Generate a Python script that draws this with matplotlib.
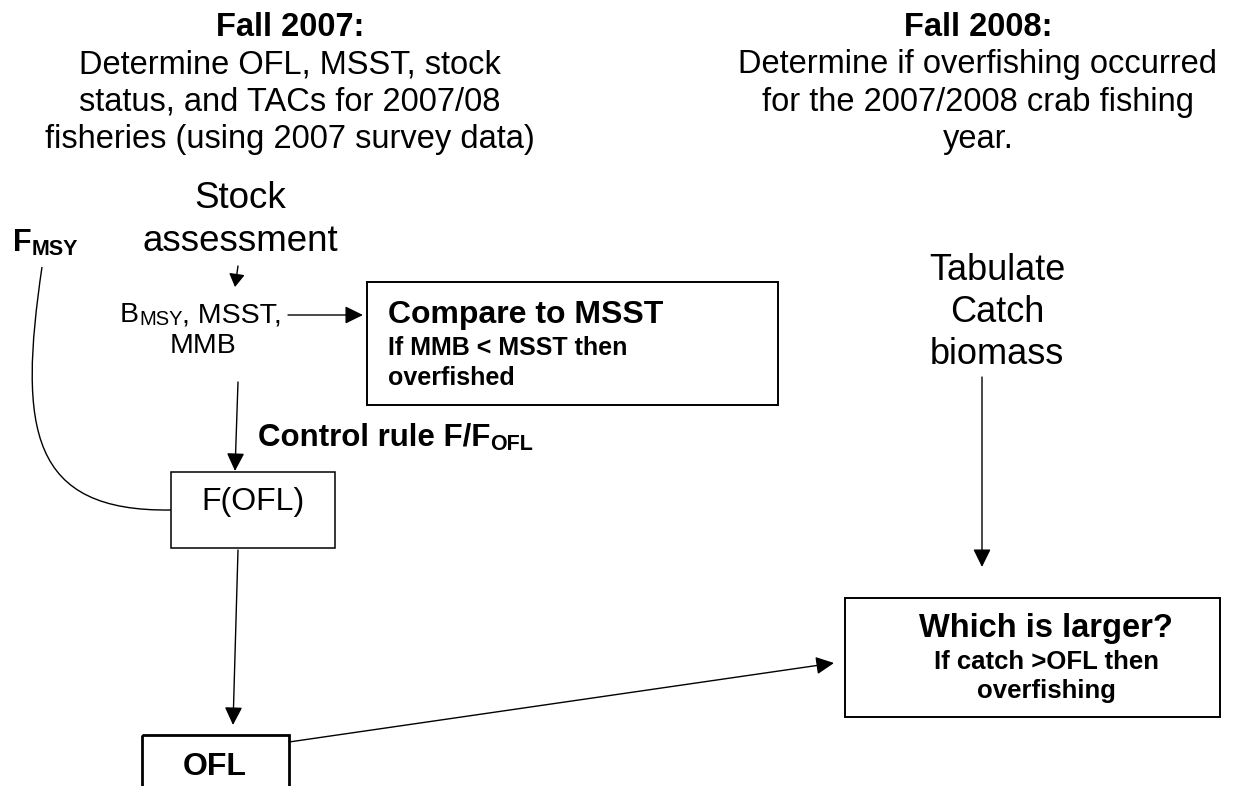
import matplotlib.pyplot as plt
from matplotlib.patches import Rectangle, PathPatch
from matplotlib.path import Path

plt.rcParams['font.family'] = ['Liberation Sans', 'DejaVu Sans']

# texts of the flow chart
left_head = 'Fall 2007:'
left_lines = ['Determine OFL, MSST, stock',
              'status, and TACs for 2007/08',
              'fisheries (using 2007 survey data)']
right_head = 'Fall 2008:'
right_lines = ['Determine if overfishing occurred',
               'for the 2007/2008 crab fishing',
               'year.']
stock_lines = ['Stock', 'assessment']
tab_lines = ['Tabulate', 'Catch', 'biomass']
compare_title = 'Compare to MSST'
compare_lines = ['If MMB < MSST then', 'overfished']
which_title = 'Which is larger?'
which_lines = ['If catch >OFL then', 'overfishing']
fmsy_runs = [('F', 0), ('MSY', 1)]
bmsy_runs = [('B', 0), ('MSY', 1), (', MSST,', 0)]
control_runs = [('Control rule F/F', 0), ('OFL', 1)]
fofl_label = 'F(OFL)'
ofl_label = 'OFL'
mmb_label = 'MMB'

fig = plt.figure(figsize=(12.36, 7.86), dpi=100)
ax = fig.add_axes([0, 0, 1, 1])
ax.set_xlim(0, 1236)
ax.set_ylim(786, 0)
ax.axis('off')
renderer = fig.canvas.get_renderer()


def arrow(x0, y0, x1, y1, hl=0.55, hw=0.27, ms=20):
    ax.annotate('', xy=(x1, y1), xytext=(x0, y0),
                arrowprops=dict(arrowstyle='-|>,head_length=%g,head_width=%g' % (hl, hw),
                                color='black', lw=1.0, mutation_scale=ms,
                                shrinkA=0, shrinkB=0))


def box(x0, y0, x1, y1, lw=1.4):
    ax.add_patch(Rectangle((x0, y0), x1 - x0, y1 - y0, fill=False,
                           ec='black', lw=lw, clip_on=False))


def runs(x, y, parts, size, sub_size, weight='normal', sub_drop=3):
    # draw normal text and subscripts one after another on a baseline
    for s, is_sub in parts:
        t = ax.text(x, y + (sub_drop if is_sub else 0), s, ha='left', va='baseline',
                    fontsize=sub_size if is_sub else size, fontweight=weight)
        x += t.get_window_extent(renderer).width


# header blocks
ax.text(290, 36, left_head, ha='center', va='baseline', fontsize=23.5, fontweight='bold')
for i, s in enumerate(left_lines):
    ax.text(290, 73 + 37.5 * i, s, ha='center', va='baseline', fontsize=23.5)
ax.text(978, 36, right_head, ha='center', va='baseline', fontsize=23.5, fontweight='bold')
for i, s in enumerate(right_lines):
    ax.text(978, 73 + 37.5 * i, s, ha='center', va='baseline', fontsize=23.5)

# stock assessment
for i, s in enumerate(stock_lines):
    ax.text(240, 208 + 43 * i, s, ha='center', va='baseline', fontsize=26.5)
arrow(238, 266, 235, 287, hl=0.5, hw=0.3, ms=16)

# F_MSY
runs(13, 251, fmsy_runs, 22, 15.5, weight='bold', sub_drop=4)

# B_MSY, MSST, MMB
runs(120, 322, bmsy_runs, 20.5, 14.5, sub_drop=3)
ax.text(203, 353, mmb_label, ha='center', va='baseline', fontsize=20.5)
arrow(288, 315, 363, 315)

# compare box
box(367, 282, 778, 405)
ax.text(388, 323, compare_title, ha='left', va='baseline', fontsize=23, fontweight='bold')
for i, s in enumerate(compare_lines):
    ax.text(388, 355 + 30 * i, s, ha='left', va='baseline', fontsize=18, fontweight='bold')

# control rule
arrow(238, 382, 235, 471)
runs(258, 446, control_runs, 22.5, 15.5, weight='bold', sub_drop=4)

# F(OFL) box
box(171, 472, 335, 548, lw=1.1)
ax.text(253, 510, fofl_label, ha='center', va='baseline', fontsize=23)

# curve from F_MSY to F(OFL)
verts = [(42, 267), (18, 430), (30, 512), (171, 510)]
codes = [Path.MOVETO, Path.CURVE4, Path.CURVE4, Path.CURVE4]
ax.add_patch(PathPatch(Path(verts, codes), fill=False, ec='black', lw=1.0))

# OFL box
arrow(238, 550, 233, 725)
box(142, 735, 289, 800, lw=2.0)
ax.text(215, 775, ofl_label, ha='center', va='baseline', fontsize=23, fontweight='bold')

# OFL -> which box
arrow(289, 742, 834, 663)

# tabulate catch
for i, s in enumerate(tab_lines):
    ax.text(997, 280 + 42 * i, s, ha='center', va='baseline', fontsize=26)
arrow(982, 377, 982, 567)

# which box
box(845, 598, 1220, 717)
ax.text(1046, 637, which_title, ha='center', va='baseline', fontsize=23.5, fontweight='bold')
for i, s in enumerate(which_lines):
    ax.text(1046, 669 + 29 * i, s, ha='center', va='baseline', fontsize=18.5, fontweight='bold')

fig.savefig('out.png', dpi=100)
